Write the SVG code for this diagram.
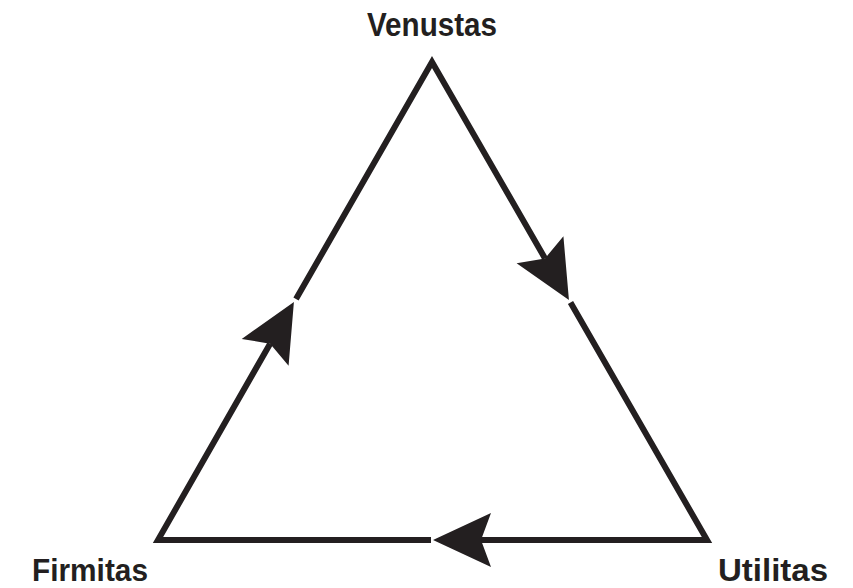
<svg xmlns="http://www.w3.org/2000/svg" width="853" height="588" viewBox="0 0 853 588">
  <style>
    .edge { fill: none; stroke: #231f20; stroke-width: 6; stroke-linejoin: miter; stroke-linecap: butt; marker-end: url(#arrow); }
    .label { font-family: "Liberation Sans", Arial, sans-serif; font-weight: bold; font-size: 33px; fill: #231f20; text-anchor: middle; }
    .bottom { font-size: 31px; }
  </style>
  <defs>
    <marker id="arrow" markerUnits="userSpaceOnUse" viewBox="-12 -30 64 60" refX="0" refY="0" markerWidth="64" markerHeight="60" orient="auto" overflow="visible">
      <path d="M48,0 L-10,-27 L0,0 L-10,27 Z" fill="#231f20"/>
    </marker>
  </defs>
  <rect width="853" height="588" fill="#ffffff"/>
  <g id="connectors">
    <path class="edge" d="M296,299 L432,62 L545,258.4"/>
    <path class="edge" d="M570.5,302.6 L707,540 L481,540"/>
    <path class="edge" d="M431,540 L158,540 L270.1,343.7"/>
  </g>
  <g id="venustas"><text class="label" x="432" y="36" textLength="130" lengthAdjust="spacingAndGlyphs">Venustas</text></g>
  <g id="firmitas"><text class="label bottom" x="90" y="581" textLength="116" lengthAdjust="spacingAndGlyphs">Firmitas</text></g>
  <g id="utilitas"><text class="label bottom" x="773" y="581" textLength="110" lengthAdjust="spacingAndGlyphs">Utilitas</text></g>
</svg>
